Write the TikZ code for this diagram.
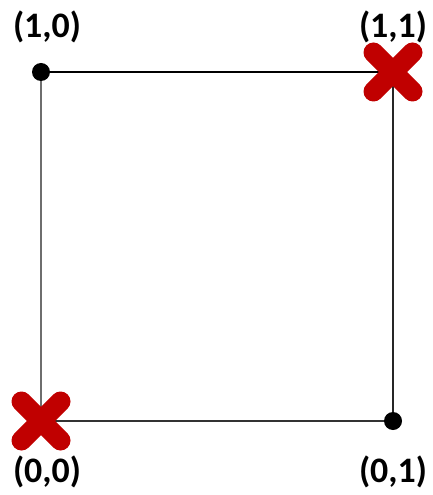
\documentclass[tikz,border=0pt]{standalone}
\usepackage{fontspec}
\setmainfont{Carlito}
\usetikzlibrary{positioning}
\definecolor{crossred}{RGB}{192,0,0}
\definecolor{edgegray}{RGB}{110,110,110}

\tikzset{
  corner/.style={circle, fill=black, inner sep=0pt, minimum size=18bp},
  lbl/.style={font=\bfseries\fontsize{36}{39}\selectfont, inner sep=0pt},
  cross/.pic={\draw[crossred, line width=20bp, line cap=round] (-19.5,-19.5) -- (19.5,19.5) (-19.5,19.5) -- (19.5,-19.5);}
}

\begin{document}
\begin{tikzpicture}[x=1bp, y=-1bp]
    \useasboundingbox (0,0) rectangle (432,495);
    % corners
    \coordinate (c10) at (41,72);
    \coordinate (c11) at (393,72);
    \coordinate (c00) at (41,421);
    \coordinate (c01) at (393,421);

    % edges
    \draw[edgegray, line width=2.6bp] (c10) -- (c00);
    \draw[black, line width=1.5bp] (c10) -- (c11);
    \draw[black!85, line width=2bp] (c11) -- (c01);
    \draw[black!80, line width=1.8bp] (c00) -- (c01);
    \node[corner] (d10) at (c10) {};
    \node[corner] (d01) at (c01) {};

    % crosses
    \pic at (c11) {cross};
    \pic at (c00) {cross};

    % labels
    \node[lbl] (l10) at (47,27) {(1,0)};
    \node[lbl] (l11) at (393,27) {(1,1)};
    \node[lbl] (l00) at (47,472) {(0,0)};
    \node[lbl] (l01) at (393,472) {(0,1)};
\end{tikzpicture}
\end{document}
